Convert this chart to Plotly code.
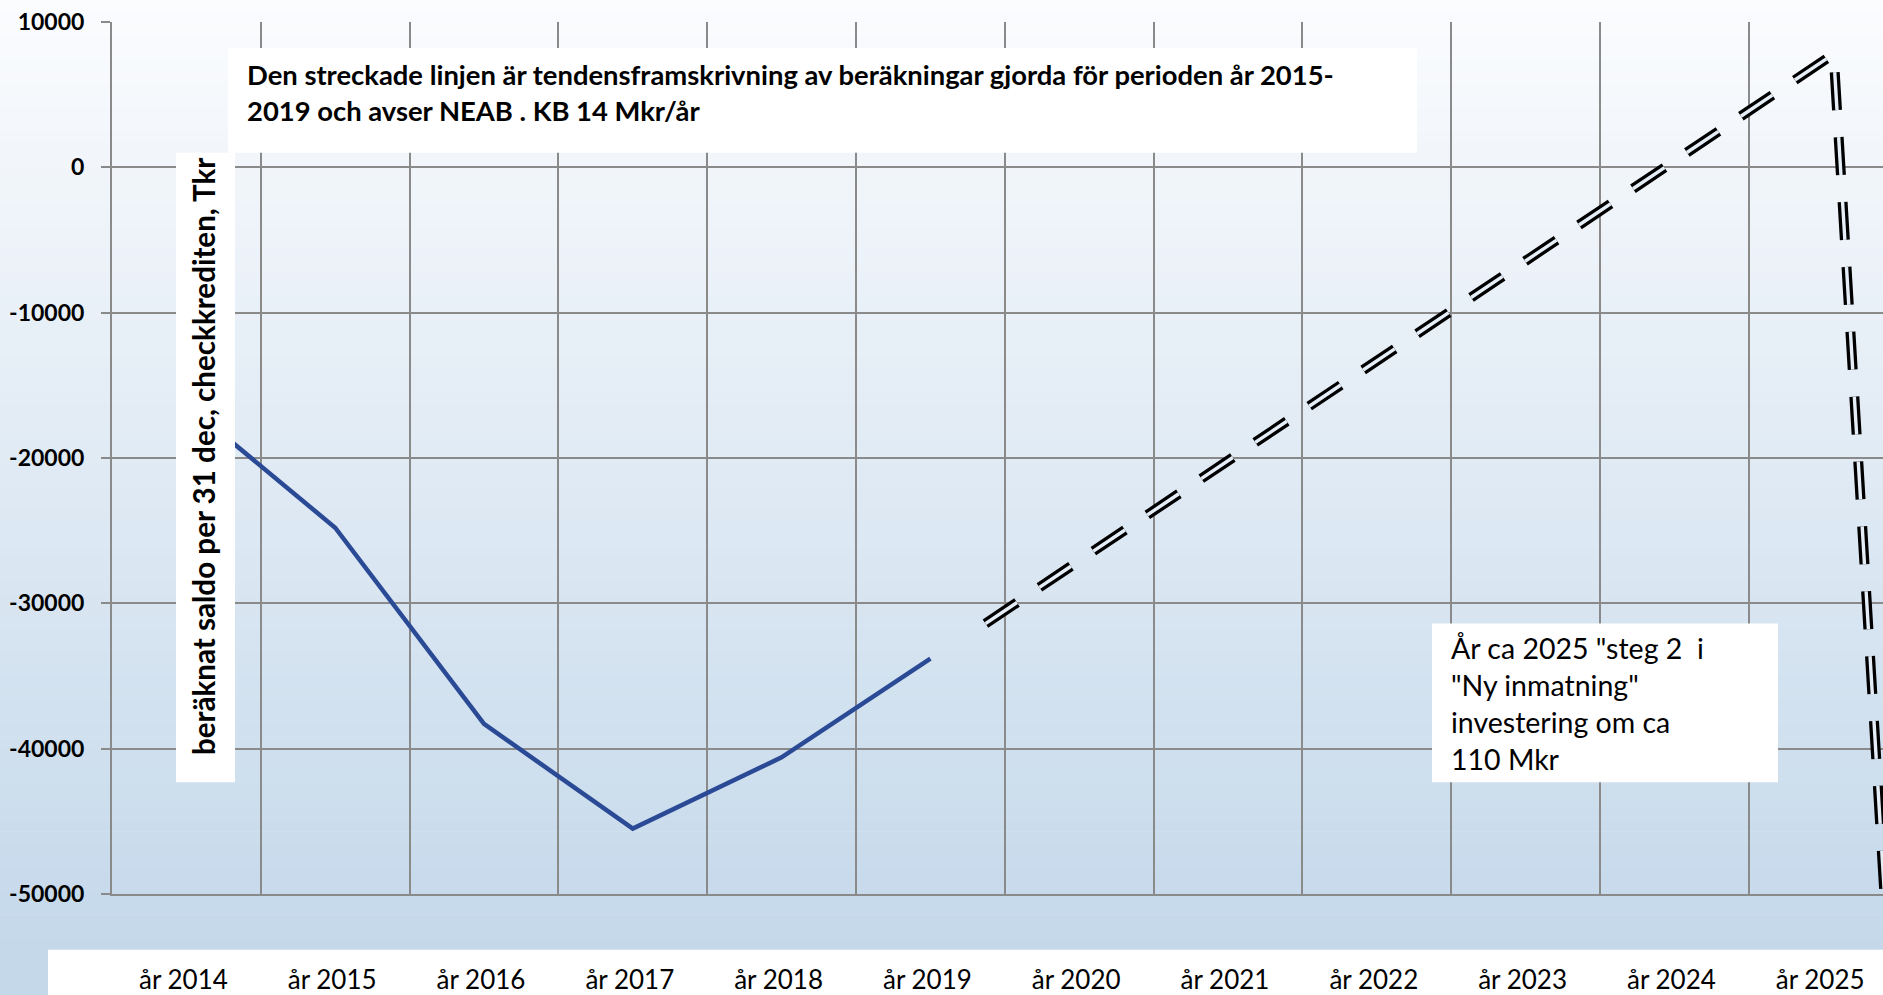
import plotly.graph_objects as go

# ---------------- data ----------------
years = list(range(2014, 2026))
x_tick_labels = [f"år {y}" for y in years]

saldo_years = [2014, 2015, 2016, 2017, 2018, 2019]
saldo_values = [-16300, -24800, -38300, -45500, -40600, -33800]

trend_years = [2019.37, 2025.07, 2025.5]
trend_values = [-31400, 7800, -65000]

y_tick_values = [-50000, -40000, -30000, -20000, -10000, 0, 10000]
y_tick_labels = ["-50000", "-40000", "-30000", "-20000", "-10000", "0", "10000"]

top_note = ("Den streckade linjen är tendensframskrivning av beräkningar gjorda för perioden år 2015-<br>"
            "2019 och avser NEAB . KB 14 Mkr/år")
right_note = 'År ca 2025 "steg 2\u00a0\u00a0i<br>"Ny inmatning"<br>investering om ca<br>110 Mkr'
y_title = "beräknat saldo per 31 dec, checkkrediten, Tkr"

# ---------------- layout geometry ----------------
W, H = 1883, 995
ML, MT, MB, MR = 112, 22, 99, 0
PW, PH = W - ML - MR, H - MT - MB
CAT_W = 148.8


def px_x(X):
    return (X - ML) / PW


def px_y(Y):
    return (H - MB - Y) / PH


GRID = "#8a8a8a"
FONT = "Lato"

fig = go.Figure()

fig.add_trace(go.Scatter(
    x=saldo_years, y=saldo_values, mode="lines",
    line=dict(color="#2b4a96", width=4.5), showlegend=False, hoverinfo="skip"))

# double dashed trend line: wide black dashed + inner light stripe
fig.add_trace(go.Scatter(
    x=trend_years, y=trend_values, mode="lines",
    line=dict(color="black", width=10, dash="38px,27px"), showlegend=False, hoverinfo="skip"))
fig.add_trace(go.Scatter(
    x=trend_years, y=trend_values, mode="lines",
    line=dict(color="#e5edf6", width=3.4, dash="38px,27px"), showlegend=False, hoverinfo="skip"))

shapes = []
# background gradient
N = 80
top_c = (251, 252, 254)
bot_c = (196, 216, 234)
for i in range(N):
    Y0 = 952 * i / N
    Y1 = 952 * (i + 1) / N + 0.6
    t = (i + 0.5) / N
    c = tuple(round(top_c[k] + (bot_c[k] - top_c[k]) * t) for k in range(3))
    shapes.append(dict(type="rect", xref="paper", yref="paper", layer="below",
                       x0=px_x(-5), x1=px_x(W + 5), y0=px_y(Y1), y1=px_y(Y0),
                       fillcolor=f"rgb{c}", line=dict(width=0)))
shapes.append(dict(type="rect", xref="paper", yref="paper", layer="below",
                   x0=px_x(-5), x1=px_x(W + 5), y0=px_y(H + 5), y1=px_y(952),
                   fillcolor=f"rgb{bot_c}", line=dict(width=0)))
# white label strip at the bottom
shapes.append(dict(type="rect", xref="paper", yref="paper", layer="below",
                   x0=px_x(48), x1=px_x(W + 5), y0=px_y(H + 5), y1=px_y(952),
                   fillcolor="white", line=dict(width=0)))
# white boxes
for (X0, X1, Y0, Y1) in [(228, 1417, 48, 153), (176, 235, 153, 784), (1432, 1778, 625, 784)]:
    shapes.append(dict(type="rect", xref="paper", yref="paper", layer="above",
                       x0=px_x(X0), x1=px_x(X1), y0=px_y(Y1), y1=px_y(Y0),
                       fillcolor="white", line=dict(width=0)))

annotations = [
    dict(text=top_note, xref="paper", yref="paper", x=px_x(245), y=px_y(93),
         xanchor="left", yanchor="middle", align="left", showarrow=False,
         font=dict(family=FONT, size=27.4, color="black", weight="bold")),
    dict(text=y_title, xref="paper", yref="paper", x=px_x(203), y=px_y(458),
         xanchor="center", yanchor="middle", textangle=-90, showarrow=False,
         font=dict(family=FONT, size=29.6, color="black", weight="bold")),
    dict(text=right_note, xref="paper", yref="paper", x=px_x(1449), y=px_y(705),
         xanchor="left", yanchor="middle", align="left", showarrow=False,
         font=dict(family=FONT, size=28.5, color="black")),
]

fig.update_layout(
    width=W, height=H,
    margin=dict(l=ML, r=MR, t=MT, b=MB, pad=0),
    paper_bgcolor="white", plot_bgcolor="rgba(0,0,0,0)",
    shapes=shapes, annotations=annotations, showlegend=False,
    xaxis=dict(
        range=[years[0] - 0.5, years[0] - 0.5 + PW / CAT_W],
        tickmode="array", tickvals=years, ticktext=x_tick_labels,
        showgrid=False, zeroline=False, ticks="",
        showline=True, linecolor=GRID, linewidth=2,
        tickfont=dict(family=FONT, size=26, color="black"),
        ticklabelstandoff=62, ticklabelshift=-3,
        minor=dict(tickmode="array", tickvals=[y + 0.5 for y in years[:-1]],
                   showgrid=True, gridcolor=GRID, gridwidth=2, ticks=""),
    ),
    yaxis=dict(
        range=[y_tick_values[0], y_tick_values[-1]],
        tickmode="array", tickvals=y_tick_values, ticktext=y_tick_labels,
        showgrid=True, gridcolor=GRID, gridwidth=2, zeroline=False,
        ticks="outside", ticklen=9, tickwidth=2, tickcolor=GRID,
        showline=True, linecolor=GRID, linewidth=2,
        tickfont=dict(family=FONT, size=23, color="black", weight="bold"),
        ticklabelstandoff=12,
    ),
)

fig.write_html("out.html", config={"displayModeBar": False},
               post_script="document.body.style.margin='0';document.body.style.overflow='hidden';")
